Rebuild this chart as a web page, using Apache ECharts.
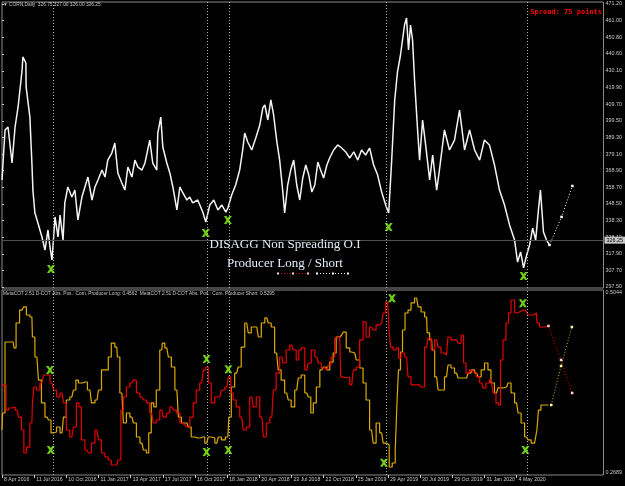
<!DOCTYPE html>
<html><head><meta charset="utf-8">
<script src="https://cdn.jsdelivr.net/npm/echarts@6/dist/echarts.min.js"></script>
<style>html,body{margin:0;padding:0;background:#000;}#c{width:625px;height:486px;}</style>
</head><body><div id="c"></div>
<script>
// ---- tick labels ----
const dateLabels = ['8 Apr 2016','11 Jul 2016','10 Oct 2016','11 Jan 2017','13 Apr 2017','17 Jul 2017','16 Oct 2017','18 Jan 2018','20 Apr 2018','23 Jul 2018','22 Oct 2018','25 Jan 2019','29 Apr 2019','30 Jul 2019','29 Oct 2019','31 Jan 2020','4 May 2020'];
const dateWeeks = [0,12.8,25.6,38.4,51.2,64,76.8,89.6,102.4,115.2,128,140.8,153.6,166.4,179.2,192,204.8];
const priceTickLabels = ['297.50','307.70','317.90','328.10','338.30','348.50','358.70','368.90','379.10','389.30','399.50','409.70','419.90','430.10','440.60','450.80','461.00','471.20'];
const cotTickLabels = ['0.2689','0.5044'];
const lastClose = 326.25;

// ---- price (week index, price) ----
const price = [[0,363.2],[1.2,393.9],[2.4,395.7],[4.0,373.6],[5.2,395.7],[6.4,408.0],[8.0,430.7],[8.3,438.7],[9.5,435.0],[9.6,420.3],[11.1,401.8],[11.9,373.6],[12.3,357.0],[13.1,342.9],[14.3,336.8],[15.9,328.2],[17.1,320.2],[18.3,332.5],[19.1,322.0],[19.9,314.1],[21.1,340.5],[22.3,328.2],[23.1,341.7],[24.3,326.3],[25.0,349.1],[26.2,358.9],[27.8,352.7],[29.0,357.0],[30.2,338.6],[31.8,352.7],[33.0,358.9],[34.2,365.0],[35.8,350.9],[37.0,358.9],[38.2,363.2],[39.8,369.3],[41.0,365.0],[42.1,375.4],[43.7,379.7],[44.9,385.9],[46.1,367.5],[47.7,361.3],[48.9,357.0],[50.1,371.1],[51.7,365.0],[52.9,375.4],[54.1,371.1],[55.7,369.3],[56.9,373.6],[58.8,387.7],[60.0,373.6],[61.6,369.3],[62.0,392.0],[63.2,401.8],[64.0,383.4],[65.6,373.6],[66.8,367.5],[68.0,358.9],[69.6,344.8],[70.8,358.9],[72.0,355.2],[73.6,350.9],[74.7,352.7],[75.9,349.1],[77.9,350.9],[79.9,343.5],[81.1,337.4],[82.7,347.8],[84.3,350.9],[85.9,344.8],[87.5,347.8],[89.1,343.5],[89.9,346.0],[91.4,354.0],[93.0,360.1],[94.6,369.3],[95.8,381.6],[96.6,392.0],[97.8,386.5],[99.4,381.6],[101.0,389.0],[102.6,396.9],[103.8,407.4],[104.6,409.2],[105.8,400.0],[107.0,412.3],[108.1,403.1],[109.3,387.7],[110.5,375.4],[111.7,357.0],[112.5,342.9],[113.7,360.1],[114.9,369.3],[116.1,375.4],[117.3,360.1],[118.5,350.9],[119.7,364.4],[120.9,372.4],[122.1,366.2],[123.3,355.8],[124.5,360.1],[125.7,374.2],[126.8,369.3],[128.0,364.4],[129.3,372.4],[130.4,376.7],[132.0,381.6],[133.6,384.7],[135.2,382.8],[136.8,380.4],[138.4,376.7],[140.0,380.4],[141.6,375.4],[143.1,381.6],[144.7,378.5],[146.3,382.8],[147.9,372.4],[149.5,366.2],[151.1,355.8],[152.7,347.8],[153.9,342.9],[155.1,375.4],[156.3,412.3],[157.4,429.5],[158.6,439.9],[159.4,449.1],[160.2,458.3],[161.0,462.6],[161.8,443.0],[162.6,458.3],[163.4,449.1],[164.2,424.5],[165.4,393.9],[166.2,375.4],[167.4,400.0],[168.6,384.7],[170.2,363.2],[171.4,378.5],[173.0,357.0],[174.1,369.3],[176.1,393.9],[178.1,381.6],[180.1,387.7],[182.1,406.1],[184.1,381.6],[186.1,393.9],[188.1,381.6],[190.1,375.4],[192.0,387.7],[194.0,384.7],[196.0,372.4],[198.0,357.0],[200.0,347.8],[202.0,335.6],[204.0,326.3],[205.2,312.8],[206.4,319.0],[207.6,309.2],[208.8,317.1],[210.0,323.3],[211.2,333.7],[212.4,326.3],[213.5,344.8],[214.3,357.0],[215.5,331.3],[216.7,326.3],[217.9,323.3]];
const priceProjection = [[217.9,323.3],[222.7,340.5],[227.0,359.5]];
const priceSignals = [[19.5,308.5],[81.1,330.6],[89.9,338.6],[153.9,334.3],[207.6,304.2]];

// ---- COT: Com. Producer Long (yellow) ----
const producerLong = [[0,0.3262],[0.4,0.3478],[2.0,0.4382],[4.4,0.4382],[5.2,0.4306],[6.0,0.4624],[8.0,0.4789],[9.1,0.4828],[10.3,0.4726],[11.9,0.4700],[12.3,0.4446],[13.9,0.4191],[15.1,0.3898],[16.3,0.3606],[17.9,0.3427],[19.1,0.3389],[19.9,0.3224],[21.1,0.3237],[22.3,0.3300],[23.9,0.3224],[25.0,0.3427],[26.2,0.3644],[27.8,0.3682],[29.0,0.3771],[29.8,0.3898],[31.0,0.3860],[33.0,0.3873],[35.0,0.3771],[36.2,0.3606],[37.8,0.3644],[39.0,0.3771],[40.2,0.4026],[41.7,0.4026],[42.9,0.4191],[44.1,0.4369],[45.7,0.4318],[46.1,0.4191],[47.7,0.3733],[48.9,0.3351],[50.1,0.3478],[51.7,0.3427],[52.9,0.3351],[54.1,0.3173],[55.7,0.3096],[56.9,0.3007],[58.0,0.2969],[58.8,0.3224],[60.0,0.3606],[60.8,0.3555],[62.0,0.3771],[63.6,0.4280],[64.0,0.4369],[65.6,0.4306],[66.8,0.4191],[68.0,0.4064],[69.6,0.3771],[70.8,0.3427],[72.0,0.3351],[73.6,0.3351],[74.7,0.3300],[75.9,0.3173],[77.9,0.3160],[79.9,0.3173],[81.5,0.3096],[82.7,0.3173],[83.9,0.3160],[85.5,0.3096],[86.7,0.3173],[87.9,0.3135],[89.9,0.3173],[90.7,0.3427],[91.8,0.3809],[93.4,0.3987],[94.6,0.4064],[95.8,0.4318],[97.4,0.4624],[98.6,0.4497],[99.8,0.4573],[101.4,0.4573],[102.6,0.4446],[103.8,0.4624],[105.4,0.4688],[106.6,0.4624],[107.7,0.4573],[109.3,0.4242],[110.5,0.4026],[111.7,0.3898],[113.3,0.3733],[114.5,0.3644],[115.7,0.3555],[117.3,0.3771],[118.5,0.3924],[119.7,0.3962],[121.3,0.3733],[122.5,0.3682],[123.3,0.3478],[124.5,0.3606],[125.7,0.3809],[127.3,0.4026],[128.5,0.4064],[129.7,0.4026],[131.2,0.4127],[132.4,0.4242],[133.6,0.4446],[135.2,0.4471],[136.4,0.4509],[137.6,0.4306],[139.2,0.4255],[140.4,0.4242],[141.6,0.4153],[143.1,0.4051],[144.3,0.3860],[145.5,0.3644],[147.1,0.3262],[148.3,0.3096],[149.5,0.3351],[151.1,0.3224],[152.3,0.3096],[153.5,0.3071],[154.7,0.2791],[155.9,0.2842],[157.1,0.3007],[157.4,0.3644],[158.2,0.4026],[159.0,0.4255],[159.8,0.4535],[161.0,0.4751],[162.2,0.4789],[163.4,0.4879],[165.0,0.4942],[166.2,0.4828],[167.4,0.4764],[169.0,0.4700],[169.4,0.4497],[171.0,0.4408],[171.4,0.4280],[173.0,0.3937],[174.1,0.3771],[175.3,0.3771],[176.9,0.3937],[178.1,0.4089],[179.3,0.4051],[180.9,0.3987],[182.1,0.3924],[184.9,0.3924],[186.1,0.3987],[187.3,0.4026],[188.9,0.3987],[190.1,0.3937],[191.3,0.4026],[192.8,0.4115],[194.0,0.4026],[195.2,0.3860],[196.8,0.3733],[198.0,0.3797],[200.8,0.3809],[202.0,0.3860],[203.2,0.3733],[204.8,0.3606],[206.0,0.3478],[207.2,0.3351],[208.8,0.3173],[210.0,0.3135],[211.2,0.3096],[212.7,0.3096],[213.1,0.3262],[213.9,0.3516],[215.1,0.3580],[217.5,0.3580]];
const longProjection = [[218.6,0.3580],[222.5,0.4077],[226.8,0.4573]];

// ---- COT: Com. Producer Short (red) ----
const producerShort = [[0,0.3809],[1.2,0.3835],[2.0,0.3516],[3.2,0.3542],[4.4,0.3555],[6.0,0.3516],[7.2,0.3427],[8.3,0.3262],[9.1,0.2969],[10.3,0.3045],[11.9,0.3351],[12.3,0.3606],[13.1,0.3809],[14.3,0.3771],[15.9,0.3860],[17.1,0.3962],[18.3,0.3962],[19.9,0.3860],[21.1,0.3771],[22.3,0.3682],[23.9,0.3733],[25.0,0.3606],[26.2,0.3262],[27.8,0.3173],[29.0,0.3300],[30.2,0.3606],[31.0,0.3555],[32.2,0.3135],[33.8,0.3007],[35.0,0.2969],[36.2,0.3096],[37.8,0.3262],[39.0,0.3135],[40.2,0.2969],[41.7,0.2918],[42.9,0.2880],[44.1,0.2816],[45.7,0.2816],[46.9,0.2880],[47.7,0.3516],[48.9,0.3682],[50.1,0.3809],[51.7,0.3860],[52.9,0.3898],[54.1,0.3733],[55.7,0.3682],[56.9,0.3644],[58.0,0.3606],[59.6,0.3478],[60.8,0.3351],[62.0,0.3389],[63.6,0.3516],[64.8,0.3427],[66.0,0.3478],[67.6,0.3555],[68.8,0.3516],[70.0,0.3478],[71.6,0.3351],[72.8,0.3326],[74.0,0.3300],[75.5,0.3427],[76.7,0.3606],[77.9,0.3771],[79.5,0.3860],[80.7,0.4026],[81.5,0.4064],[82.7,0.3860],[83.9,0.3606],[85.5,0.3682],[86.7,0.3682],[87.9,0.3771],[89.5,0.3809],[90.7,0.3937],[91.4,0.3733],[92.6,0.3644],[93.8,0.3555],[95.4,0.3427],[96.6,0.3262],[97.8,0.3300],[99.4,0.3682],[100.6,0.3555],[101.8,0.3682],[103.4,0.3427],[104.6,0.3173],[105.8,0.3351],[107.4,0.3427],[108.5,0.3771],[109.7,0.3987],[111.3,0.4191],[112.5,0.4115],[113.7,0.4280],[115.3,0.4344],[116.5,0.4280],[117.7,0.4153],[118.5,0.4280],[119.7,0.4306],[121.3,0.4026],[122.5,0.4115],[123.7,0.4280],[125.3,0.4191],[126.5,0.4115],[127.7,0.4051],[129.3,0.4026],[130.4,0.4089],[131.6,0.4191],[133.2,0.4433],[134.4,0.4446],[135.2,0.3937],[136.4,0.3924],[137.6,0.3937],[139.2,0.3835],[140.4,0.4026],[141.6,0.4064],[143.1,0.4408],[144.3,0.4637],[145.5,0.4446],[147.1,0.4573],[148.3,0.4535],[149.5,0.4599],[151.1,0.4624],[152.3,0.4751],[153.1,0.4891],[153.9,0.4879],[154.3,0.4497],[155.1,0.4318],[156.3,0.4280],[157.4,0.4306],[158.2,0.4178],[159.4,0.4242],[161.0,0.4191],[162.2,0.3937],[163.4,0.3835],[166.2,0.3835],[167.4,0.3809],[169.0,0.4318],[170.2,0.4433],[171.4,0.4280],[173.0,0.4408],[174.1,0.4318],[175.3,0.4242],[176.9,0.4217],[178.1,0.4446],[179.3,0.4408],[180.9,0.4408],[182.1,0.4369],[183.3,0.4471],[184.1,0.4115],[185.3,0.3987],[186.9,0.4026],[188.1,0.4000],[189.3,0.3937],[190.9,0.3860],[192.0,0.3797],[193.2,0.3860],[194.8,0.3898],[196.0,0.3733],[197.2,0.3606],[198.0,0.3580],[198.8,0.4153],[200.0,0.4408],[201.2,0.4624],[202.0,0.4751],[203.2,0.4917],[204.8,0.4751],[206.0,0.4764],[207.2,0.4789],[208.8,0.4764],[210.0,0.4726],[212.7,0.4751],[213.1,0.4624],[214.7,0.4573],[217.5,0.4586]];
const shortProjection = [[217.5,0.4586],[222.5,0.4153],[226.9,0.3733]];

const cotSignals = [[19.1,0.4026],[19.4,0.3007],[81.4,0.4166],[81.4,0.2982],[90.1,0.4035],[90.1,0.3007],[155.2,0.4938],[152.0,0.2846],[207.3,0.4875],[208.3,0.3007]];
const signalWeeks = [20.3,81.5,90.3,153.1,208.9];

// ---- chart ----
const FONT = 'Liberation Sans';
const TXT = '#c8c8c8';
const FRAME = '#8a8a8a';
const XMARK = 'path://M0,0 L3.2,0 L5,2.4 L6.8,0 L10,0 L6.7,5 L10,10 L6.8,10 L5,7.6 L3.2,10 L0,10 L3.3,5 Z';
const priceTickValues = priceTickLabels.map(Number);
const cotTickValues = cotTickLabels.map(Number);

function vLines() {
  return signalWeeks.map(w => ({xAxis: w}));
}

const chart = echarts.init(document.getElementById('c'), null, {renderer: 'canvas'});
const option = {
  backgroundColor: '#000',
  animation: false,
  grid: [
    {left: 2, top: 2, width: 602, height: 286, show: true, borderColor: FRAME, borderWidth: 1, backgroundColor: 'transparent'},
    {left: 2, top: 290, width: 602, height: 185, show: true, borderColor: FRAME, borderWidth: 1, backgroundColor: 'transparent'}
  ],
  xAxis: [
    {gridIndex: 0, type: 'value', min: 0, max: 239.4, show: false},
    {gridIndex: 1, type: 'value', min: 0, max: 239.4,
     axisLine: {show: false}, splitLine: {show: false},
     axisTick: {show: true, customValues: dateWeeks, length: 3, lineStyle: {color: TXT}},
     axisLabel: {customValues: dateWeeks, align: 'left', margin: 2, padding: [0,0,0,2],
       color: TXT, fontSize: 5.2, fontFamily: FONT,
       formatter: v => dateLabels[Math.round(v / 12.8)]}}
  ],
  yAxis: [
    {gridIndex: 0, type: 'value', position: 'right', min: 296.89, max: 472.43,
     splitLine: {show: false}, axisLine: {show: false},
     axisTick: {show: true, customValues: priceTickValues, length: 2, lineStyle: {color: TXT}},
     axisLabel: {customValues: priceTickValues, margin: 2, color: TXT, fontSize: 5.4, fontFamily: FONT,
       formatter: v => v.toFixed(2)}},
    {gridIndex: 1, type: 'value', position: 'right', min: 0.2689, max: 0.5044,
     splitLine: {show: false}, axisLine: {show: false},
     axisTick: {show: false},
     axisLabel: {customValues: cotTickValues, margin: 2, color: TXT, fontSize: 5.4, fontFamily: FONT,
       verticalAlignMinLabel: 'bottom', verticalAlignMaxLabel: 'top',
       formatter: v => v.toFixed(4)}}
  ],
  series: [
    {name: 'CORN,Daily', type: 'line', xAxisIndex: 0, yAxisIndex: 0, data: price,
     symbol: 'none', lineStyle: {color: '#f4f4f4', width: 1.5}, z: 3,
     markLine: {silent: true, symbol: 'none', animation: false,
       data: [
         {yAxis: lastClose, lineStyle: {color: '#505050', type: 'solid', width: 1},
          label: {show: true, position: 'end', distance: 1, formatter: lastClose.toFixed(2),
            backgroundColor: '#c8c8c8', color: '#000', fontSize: 5.4, fontFamily: FONT, padding: [1,2,1,2]}},
         ...vLines().map(d => Object.assign(d, {lineStyle: {color: '#b4b4b4', type: [1,2], width: 1}, label: {show: false}}))
       ]}},
    {name: 'projection', type: 'line', xAxisIndex: 0, yAxisIndex: 0, data: priceProjection,
     symbol: 'rect', symbolSize: 2.5, itemStyle: {color: '#ffffff'},
     lineStyle: {color: '#ffffff', width: 1, type: [1,2]}, z: 3},
    {name: 'signal', type: 'scatter', xAxisIndex: 0, yAxisIndex: 0, data: priceSignals,
     symbol: XMARK, symbolSize: 8, itemStyle: {color: '#8cff1a'}, z: 5},

    {name: 'Com. Producer Long', type: 'line', xAxisIndex: 1, yAxisIndex: 1, data: producerLong,
     step: 'middle', symbol: 'none', lineStyle: {color: '#dcaa00', width: 1.2}, z: 3,
     markLine: {silent: true, symbol: 'none', animation: false,
       data: vLines(), lineStyle: {color: '#b4b4b4', type: [1,2], width: 1}, label: {show: false}}},
    {name: 'Com. Producer Short', type: 'line', xAxisIndex: 1, yAxisIndex: 1, data: producerShort,
     step: 'middle', symbol: 'none', lineStyle: {color: '#e60000', width: 1.2}, z: 3},
    {name: 'long projection', type: 'line', xAxisIndex: 1, yAxisIndex: 1, data: longProjection,
     symbol: 'rect', symbolSize: 2.5, itemStyle: {color: '#ffff99'},
     lineStyle: {color: '#dcaa00', width: 1, type: [1,2]}, z: 3},
    {name: 'short projection', type: 'line', xAxisIndex: 1, yAxisIndex: 1, data: shortProjection,
     symbol: 'rect', symbolSize: 2.5, itemStyle: {color: '#ffd8d8'},
     lineStyle: {color: '#e60000', width: 1, type: [1,2]}, z: 3},
    {name: 'cot signal', type: 'scatter', xAxisIndex: 1, yAxisIndex: 1, data: cotSignals,
     symbol: XMARK, symbolSize: 8, itemStyle: {color: '#8cff1a'}, z: 5}
  ],
  graphic: [
    {type: 'text', left: 3, top: 2, z: 10, style: {text: '\u25BC CORN,Daily  326.75 327.00 326.00 326.25', fill: TXT, font: '4.8px "Liberation Sans"'}},
    {type: 'text', right: 23, top: 9, z: 10, style: {text: 'Spread: 75 points', fill: '#ff0000', font: 'bold 7px "DejaVu Sans Mono"'}},
    {type: 'text', left: 3, top: 291.5, z: 10, style: {text: 'MetaCOT 2.51 D-COT Abs. Pos.: Com. Producer Long: 0.4562  MetaCOT 2.51 D-COT Abs. Pos.: Com. Producer Short: 0.5295', fill: TXT, font: '4.8px "Liberation Sans"'}},
    {type: 'text', x: 285, y: 245, z: 10, style: {text: 'DISAGG Non Spreading O.I', fill: '#e4eefa', font: '13px "Liberation Serif"', textAlign: 'center', textVerticalAlign: 'middle'}},
    {type: 'text', x: 285, y: 264, z: 10, style: {text: 'Producer Long / Short', fill: '#e4eefa', font: '13px "Liberation Serif"', textAlign: 'center', textVerticalAlign: 'middle'}},
    {type: 'line', z: 10, shape: {x1: 278, y1: 273.5, x2: 308, y2: 273.5}, style: {stroke: '#e60000', lineWidth: 1, lineDash: [1,2]}},
    {type: 'rect', z: 11, shape: {x: 277, y: 272.5, width: 2, height: 2}, style: {fill: '#ffd8d8'}},
    {type: 'rect', z: 11, shape: {x: 292, y: 272.5, width: 2, height: 2}, style: {fill: '#ffd8d8'}},
    {type: 'rect', z: 11, shape: {x: 307, y: 272.5, width: 2, height: 2}, style: {fill: '#ffd8d8'}},
    {type: 'line', z: 10, shape: {x1: 317, y1: 273.5, x2: 348, y2: 273.5}, style: {stroke: '#ffffff', lineWidth: 1, lineDash: [1,2]}},
    {type: 'rect', z: 11, shape: {x: 316, y: 272.5, width: 2, height: 2}, style: {fill: '#ffffff'}},
    {type: 'rect', z: 11, shape: {x: 332, y: 272.5, width: 2, height: 2}, style: {fill: '#ffffff'}},
    {type: 'rect', z: 11, shape: {x: 347, y: 272.5, width: 2, height: 2}, style: {fill: '#ffffff'}}
  ]
};
chart.setOption(option);
</script>
</body></html>
